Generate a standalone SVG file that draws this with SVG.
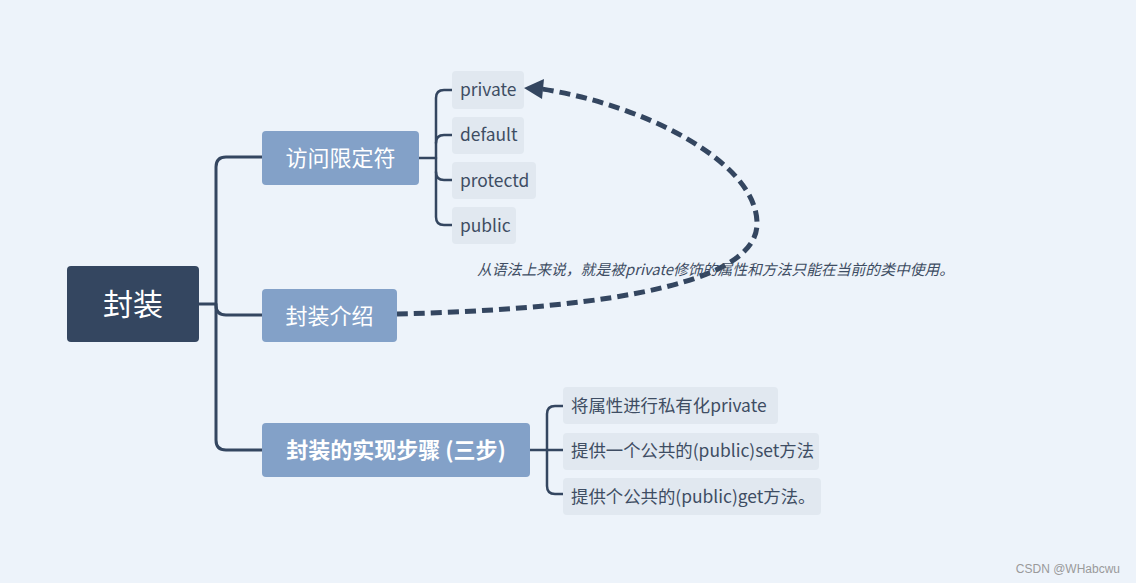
<svg xmlns="http://www.w3.org/2000/svg" width="1136" height="583" viewBox="0 0 1136 583">
<defs>
<style>
.bg{fill:#edf3fa}
.root{fill:#344660}
.main{fill:#83a1c8}
.sub{fill:#e1e8f0}
.line{fill:none;stroke:#344660;stroke-width:3;stroke-linecap:round;stroke-linejoin:round}
.sline{fill:none;stroke:#344660;stroke-width:2.5;stroke-linecap:round;stroke-linejoin:round}
.dash{fill:none;stroke:#344660;stroke-width:5;stroke-dasharray:11 6}
.t{font-family:"Noto Sans CJK SC","Open Sans","Noto Sans",sans-serif}
.wt{fill:#ffffff}
.st{fill:#3e4d63;font-size:17.4px}
</style>
</defs>
<rect class="bg" x="0" y="0" width="1136" height="583"/>
<g id="connectors">
<path class="line" d="M199 304 H216"/>
<path class="line" d="M262 157 H226 Q216 157 216 167 V440 Q216 450 226 450 H262"/>
<path class="line" d="M216 305 Q216 315 226 315 H262"/>
<path class="sline" d="M419 158 H436"/>
<path class="sline" d="M452 90 H444 Q436 90 436 98 V217 Q436 225 444 225 H452"/>
<path class="sline" d="M452 135 H444 Q436 135 436 143"/>
<path class="sline" d="M436 172 Q436 180 444 180 H452"/>
<path class="sline" d="M530 450 H547"/>
<path class="sline" d="M563 406 H555 Q547 406 547 414 V486 Q547 494 555 494 H563"/>
<path class="sline" d="M547 450 H563"/>
<path class="dash" d="M397 314 C560 310 760 292 757 222 C755 160 640 104 542 89"/>
<path d="M524 88 L544 79 L542 99 Z" fill="#344660"/>
</g>
<g id="root">
<rect class="root" x="67" y="266" width="132" height="76" rx="4"/>
<text class="t wt" x="133" y="315" font-size="30" text-anchor="middle">封装</text>
</g>
<g id="n-access">
<rect class="main" x="262" y="131" width="157" height="54" rx="4"/>
<text class="t wt" x="340.5" y="166" font-size="22" text-anchor="middle">访问限定符</text>
</g>
<g id="n-intro">
<rect class="main" x="262" y="289" width="135" height="53" rx="4"/>
<text class="t wt" x="329.5" y="324" font-size="22" text-anchor="middle">封装介绍</text>
</g>
<g id="n-steps">
<rect class="main" x="262" y="423" width="268" height="54" rx="4"/>
<text class="t wt" x="396" y="458" font-size="22" font-weight="bold" text-anchor="middle">封装的实现步骤 (三步)</text>
</g>
<g id="n-private">
<rect class="sub" x="452" y="71" width="72" height="38" rx="4"/>
<text class="t st" x="460" y="96">private</text>
</g>
<g id="n-default">
<rect class="sub" x="452" y="117" width="72" height="37" rx="4"/>
<text class="t st" x="460" y="141">default</text>
</g>
<g id="n-protectd">
<rect class="sub" x="452" y="162" width="84" height="37" rx="4"/>
<text class="t st" x="460" y="187">protectd</text>
</g>
<g id="n-public">
<rect class="sub" x="452" y="207" width="64" height="37" rx="4"/>
<text class="t st" x="460" y="232">public</text>
</g>
<g id="n-s1">
<rect class="sub" x="563" y="387" width="215" height="37" rx="4"/>
<text class="t st" x="571" y="412">将属性进行私有化private</text>
</g>
<g id="n-s2">
<rect class="sub" x="563" y="433" width="256" height="37" rx="4"/>
<text class="t st" x="571" y="457">提供一个公共的(public)set方法</text>
</g>
<g id="n-s3">
<rect class="sub" x="563" y="478" width="258" height="37" rx="4"/>
<text class="t st" x="571" y="503">提供个公共的(public)get方法。</text>
</g>
<g id="note">
<text class="t" x="477" y="275" font-size="14.8" font-style="italic" fill="#3e4d63">从语法上来说，就是被private修饰的属性和方法只能在当前的类中使用。</text>
</g>
<text x="1120" y="573" font-family="Liberation Sans, Arial, sans-serif" font-size="12" fill="#9a9a9a" text-anchor="end">CSDN @WHabcwu</text>
</svg>
